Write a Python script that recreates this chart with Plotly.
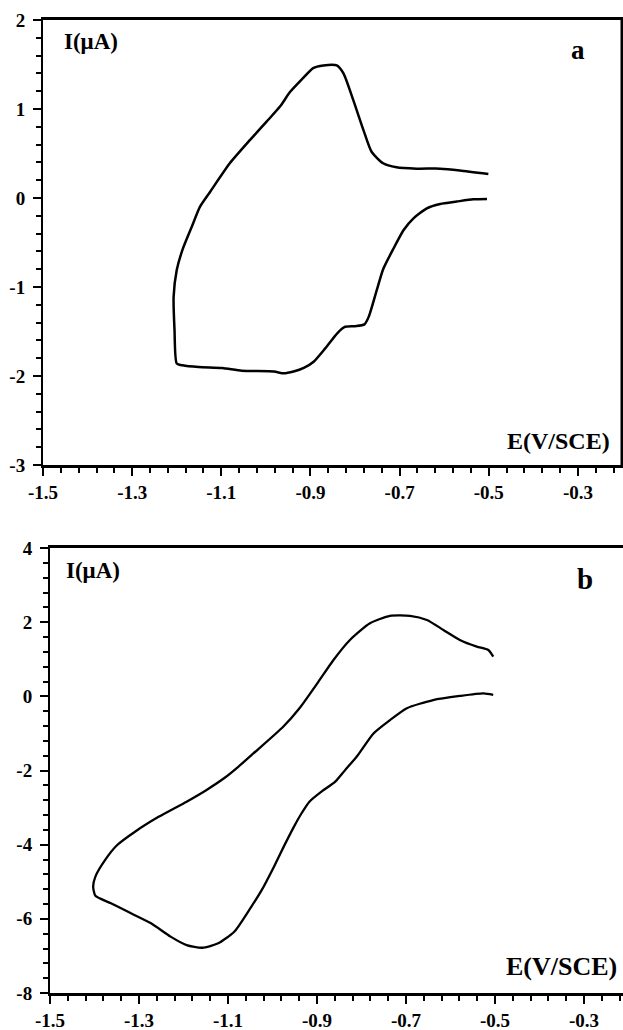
import plotly.graph_objects as go

W, H = 623, 1030

# Panel a: cyclic voltammogram (E in V/SCE, I in uA)
ea_potential = [-0.504, -0.535, -0.572, -0.609, -0.639, -0.669, -0.691, -0.714, -0.737, -0.751,
                -0.769, -0.779, -0.800, -0.824, -0.840, -0.867, -0.893, -0.915, -0.938, -0.960,
                -0.982, -1.054, -1.098, -1.151, -1.187, -1.200, -1.205, -1.207, -1.200, -1.187,
                -1.166, -1.148, -1.125, -1.081, -1.036, -0.998, -0.968, -0.946, -0.918, -0.894,
                -0.871, -0.841, -0.826, -0.804, -0.781, -0.763, -0.737, -0.707, -0.662, -0.609,
                -0.565, -0.501]
ea_current = [-0.01, -0.015, -0.04, -0.067, -0.116, -0.228, -0.36, -0.57, -0.80, -1.03,
              -1.33, -1.42, -1.44, -1.45, -1.52, -1.69, -1.84, -1.91, -1.95, -1.97,
              -1.95, -1.94, -1.91, -1.90, -1.88, -1.86, -1.48, -1.11, -0.81, -0.58,
              -0.32, -0.10, 0.07, 0.39, 0.65, 0.86, 1.03, 1.19, 1.34, 1.46,
              1.49, 1.49, 1.40, 1.10, 0.76, 0.52, 0.39, 0.345, 0.33, 0.33,
              0.31, 0.27]

# Panel b
eb_potential = [-0.504, -0.526, -0.579, -0.639, -0.698, -0.736, -0.773, -0.811, -0.837, -0.859,
                -0.890, -0.917, -0.935, -0.952, -0.975, -0.997, -1.024, -1.055, -1.086, -1.122,
                -1.158, -1.193, -1.229, -1.273, -1.318, -1.363, -1.398, -1.403, -1.398, -1.376,
                -1.349, -1.309, -1.256, -1.193, -1.149, -1.109, -1.077, -1.043, -0.976, -0.938,
                -0.897, -0.863, -0.826, -0.781, -0.736, -0.691, -0.653, -0.616, -0.579, -0.541,
                -0.515, -0.504]
eb_current = [0.04, 0.08, 0.01, -0.10, -0.32, -0.64, -1.00, -1.63, -1.99, -2.30,
              -2.57, -2.84, -3.16, -3.52, -4.06, -4.60, -5.22, -5.81, -6.35, -6.66,
              -6.78, -6.71, -6.48, -6.12, -5.85, -5.58, -5.38, -5.13, -4.86, -4.41,
              -4.01, -3.65, -3.25, -2.84, -2.53, -2.21, -1.90, -1.54, -0.82, -0.30,
              0.39, 0.98, 1.52, 1.97, 2.17, 2.17, 2.06, 1.79, 1.52, 1.34,
              1.25, 1.07]

x_tickvals = [-1.5, -1.3, -1.1, -0.9, -0.7, -0.5, -0.3]
x_ticktext = ["-1.5", "-1.3", "-1.1", "-0.9", "-0.7", "-0.5", "-0.3"]
ya_tickvals = [2, 1, 0, -1, -2, -3]
ya_ticktext = ["2", "1", "0", "-1", "-2", "-3"]
yb_tickvals = [4, 2, 0, -2, -4, -6, -8]
yb_ticktext = ["4", "2", "0", "-2", "-4", "-6", "-8"]

FONT = "Liberation Serif"
tickfont = dict(family=FONT, size=19, color="black", weight="bold")


def bold(labels):
    return ["<b>" + t + "</b>" for t in labels]


fig = go.Figure()
fig.add_trace(go.Scatter(x=ea_potential, y=ea_current, mode="lines",
                         line=dict(color="black", width=2.5, shape="spline", smoothing=0.6),
                         xaxis="x", yaxis="y", showlegend=False, hoverinfo="skip"))
fig.add_trace(go.Scatter(x=eb_potential, y=eb_current, mode="lines",
                         line=dict(color="black", width=2.3, shape="spline", smoothing=0.6),
                         xaxis="x2", yaxis="y2", showlegend=False, hoverinfo="skip"))


def px_x(p):
    return p / W


def px_y(p):
    return 1 - p / H


common_x = dict(tickmode="array", tickvals=x_tickvals, ticktext=bold(x_ticktext),
                ticks="outside", ticklen=8, tickwidth=2, tickcolor="black",
                showline=True, linecolor="black", showgrid=False, zeroline=False,
                tickfont=tickfont, fixedrange=True, automargin=False,
                minor=dict(ticks="outside", ticklen=5, tickwidth=1.5, tickcolor="black",
                           tick0=-1.5, dtick=0.04, showgrid=False))
common_y = dict(tickmode="array", ticks="outside", ticklen=8, tickwidth=2, tickcolor="black",
                showline=True, linecolor="black", linewidth=2, showgrid=False, zeroline=False,
                tickfont=tickfont, fixedrange=True, ticklabelstandoff=4, automargin=False)

fig.update_layout(
    template="none",
    width=W, height=H,
    margin=dict(l=0, r=0, t=0, b=0, pad=0, autoexpand=False),
    paper_bgcolor="white", plot_bgcolor="white",
    font=dict(family=FONT, color="black"),
    showlegend=False,
    xaxis=dict(common_x, domain=[px_x(43), px_x(621.5)], range=[-1.5, -1.5 + 578.5 / 445.8],
               anchor="y", linewidth=3, mirror=True),
    yaxis=dict(common_y, domain=[px_y(465), px_y(20)], range=[-3, 2], anchor="x",
               tickvals=ya_tickvals, ticktext=bold(ya_ticktext), mirror=True,
               minor=dict(ticks="outside", ticklen=5, tickwidth=1.5, tickcolor="black",
                          tick0=-3, dtick=0.2, showgrid=False)),
    xaxis2=dict(common_x, domain=[px_x(50), 1], range=[-1.5, -1.5 + 573 / 445], anchor="y2",
                linewidth=3, mirror=True),
    yaxis2=dict(common_y, domain=[px_y(993), px_y(548)], range=[-8, 4], anchor="x2",
                tickvals=yb_tickvals, ticktext=bold(yb_ticktext), mirror=False,
                minor=dict(ticks="outside", ticklen=5, tickwidth=1.5, tickcolor="black",
                           tick0=-8, dtick=0.4, showgrid=False)),
)

# right frame edge of panel a
fig.add_shape(type="line", xref="x domain", yref="y domain", x0=1, x1=1, y0=0, y1=1,
              line=dict(color="black", width=2))


def label(text, cx, cy, size):
    fig.add_annotation(x=px_x(cx), y=px_y(cy), xref="paper", yref="paper",
                       text="<b>" + text + "</b>", showarrow=False,
                       xanchor="center", yanchor="middle",
                       font=dict(family=FONT, size=size, color="black"))


label("I(μA)", 91, 42, 23)
label("a", 578, 50, 27)
label("E(V/SCE)", 558, 441, 24)
label("I(μA)", 93, 570, 23)
label("b", 585, 579, 29)
label("E(V/SCE)", 561, 966, 26)

fig.write_html("out.html")
